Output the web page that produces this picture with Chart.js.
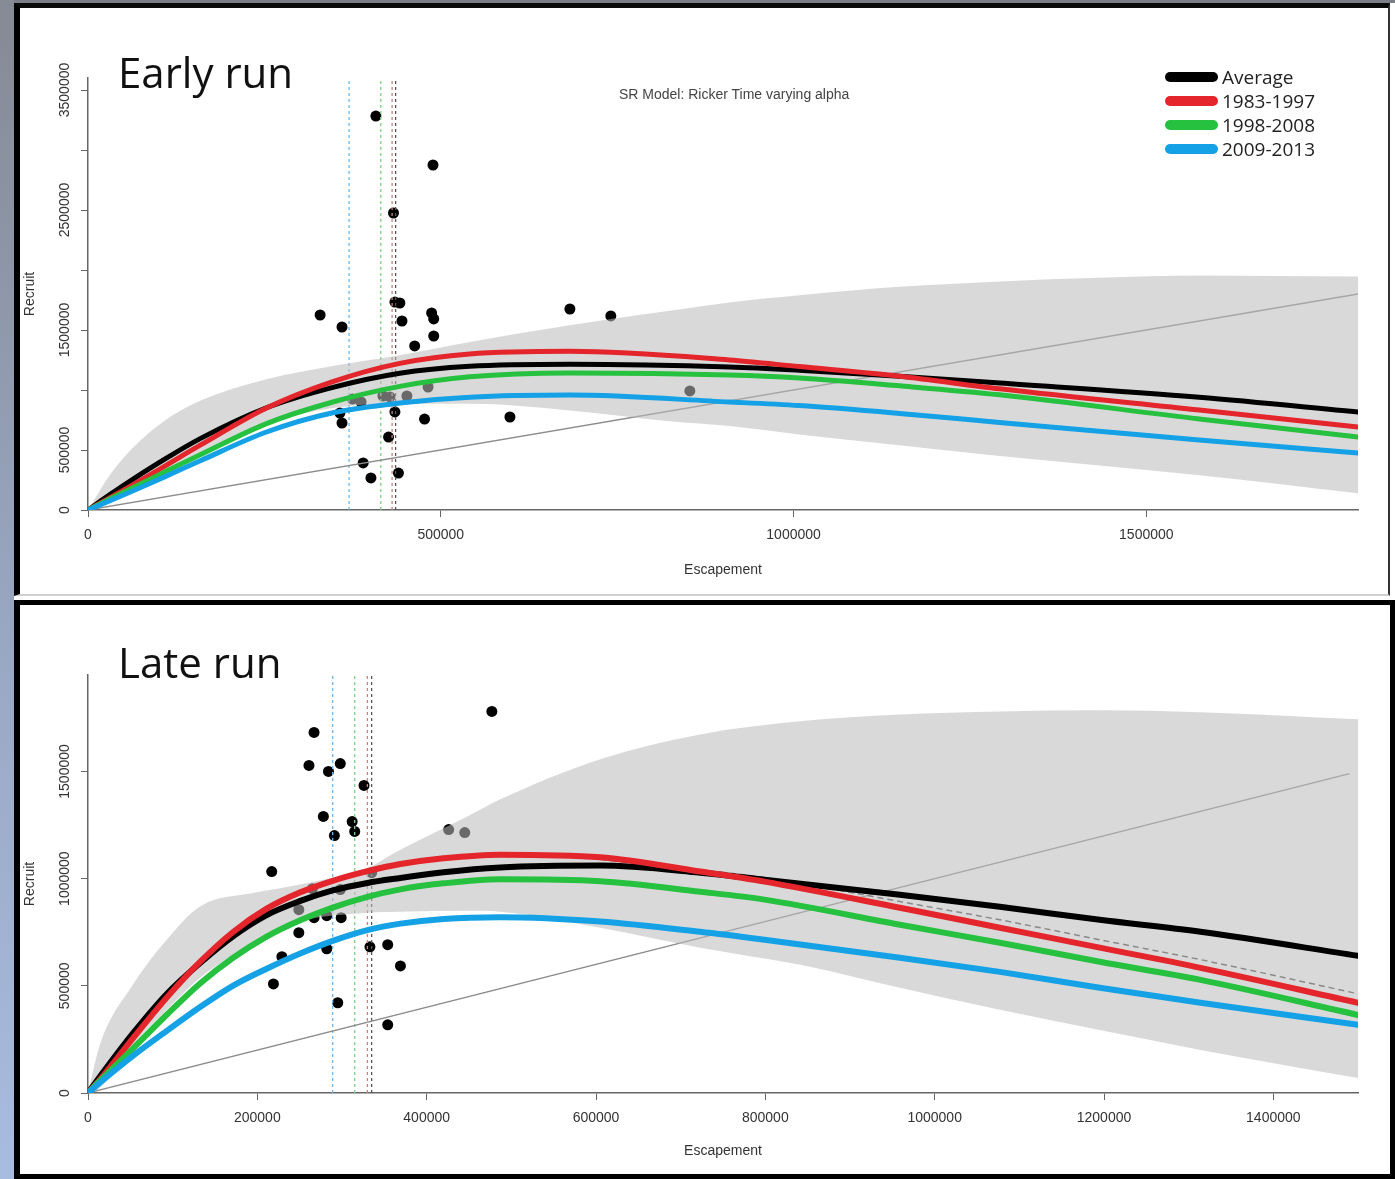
<!DOCTYPE html>
<html><head><meta charset="utf-8">
<script src="https://cdn.jsdelivr.net/npm/chart.js@4.4.0/dist/chart.umd.min.js"></script>
<style>
html,body{margin:0;padding:0;}
body{width:1395px;height:1179px;position:relative;overflow:hidden;background:#fff;font-family:'Liberation Sans',Arial,sans-serif;}
.abs{position:absolute;}
#strip{left:0;top:0;width:14px;height:1179px;background:linear-gradient(180deg,#858a94 0%,#97a5bf 50%,#a8bce0 100%);}
#topbar{left:14px;top:0;width:1381px;height:3px;background:#7a7f88;}
#panel1{left:14px;top:3px;width:1376px;height:593px;box-sizing:border-box;border-left:6px solid #000;border-top:5px solid #0a0a0a;border-right:2px solid #333;border-bottom:2px solid #d0d0d0;background:#fff;}
#panel2{left:14px;top:600px;width:1381px;height:579px;box-sizing:border-box;border:5px solid #000;border-left-width:6px;background:#fff;}
canvas{position:absolute;left:0;}
.run{position:absolute;font-family:'Open Sans';font-size:42px;line-height:42px;color:#111;left:118px;white-space:nowrap;}
.leg{position:absolute;left:1222px;font-family:'Open Sans';font-size:19px;line-height:26px;height:26px;color:#222;white-space:nowrap;}
.sw{position:absolute;left:1165px;width:53px;height:10px;border-radius:5px;}
.subt{position:absolute;font-size:14px;color:#444;left:619px;top:86px;line-height:16px;white-space:nowrap;}
</style></head>
<body>
<div id="strip" class="abs"></div>
<div id="topbar" class="abs"></div>
<div id="panel1" class="abs"></div>
<div id="panel2" class="abs"></div>
<canvas id="c1" width="1395" height="597" style="top:0;width:1395px;height:597px"></canvas>
<canvas id="c2" width="1395" height="579" style="top:600px;width:1395px;height:579px"></canvas>
<div class="run" style="top:51px">Early run</div>
<div class="run" style="top:641px">Late run</div>
<div class="subt">SR Model: Ricker Time varying alpha</div>
<div id="legend"></div>
<script>
// ---------------- Early run data ----------------
const earlyEscapement = [408000, 489000, 433000, 435000, 442000, 329000, 360000, 487000, 490000, 445000, 490000, 463000, 482000, 375000, 387000, 418000, 428000, 452000, 357000, 360000, 435000, 477000, 426000, 390000, 401000, 440000, 598000, 683000, 741000, 853000];
const earlyRecruit = [3283000, 2875000, 2475000, 1733000, 1725000, 1625000, 1525000, 1642000, 1592000, 1575000, 1450000, 1367000, 1025000, 925000, 900000, 950000, 942000, 950000, 808000, 725000, 817000, 758000, 608000, 392000, 267000, 308000, 775000, 1675000, 1617000, 992000];

const earlyCurveEsc = [0, 32000, 64000, 110000, 159000, 253000, 347000, 442000, 541000, 683000, 909000, 1008000, 1150000, 1292000, 1575000, 1800000];
const earlyAverage  = [0, 132000, 258000, 428000, 595000, 852000, 1022000, 1140000, 1198000, 1215000, 1192000, 1165000, 1115000, 1058000, 940000, 817000];
const early8397     = [0, 105000, 212000, 370000, 540000, 850000, 1070000, 1222000, 1300000, 1322000, 1250000, 1195000, 1115000, 1010000, 833000, 692000];
const early9808     = [0, 95000, 188000, 320000, 460000, 720000, 900000, 1030000, 1110000, 1142000, 1125000, 1100000, 1035000, 960000, 758000, 608000];
const early0913     = [0, 80000, 160000, 280000, 410000, 650000, 810000, 892000, 940000, 958000, 900000, 870000, 805000, 730000, 583000, 475000];

const earlyBandEsc   = [0, 32000, 64000, 110000, 159000, 253000, 347000, 442000, 541000, 683000, 824000, 909000, 1008000, 1150000, 1292000, 1433000, 1575000, 1800000];
const earlyBandUpper = [0, 300000, 520000, 750000, 910000, 1090000, 1200000, 1290000, 1400000, 1540000, 1660000, 1730000, 1790000, 1860000, 1905000, 1935000, 1955000, 1945000];
const earlyBandLower = [0, 100000, 190000, 340000, 480000, 720000, 850000, 885000, 885000, 830000, 740000, 700000, 630000, 540000, 450000, 370000, 290000, 140000];

const earlySmsy = [370000, 415000, 431000, 436000]; // 2009-2013, 1998-2008, 1983-1997, Average
const earlyReplacement = [0, 1800000];
const earlyXTicks = [0, 500000, 1000000, 1500000];
const earlyYTicks = [0, 500000, 1000000, 1500000, 2000000, 2500000, 3000000, 3500000];
const earlyYLabelled = [0, 500000, 1500000, 2500000, 3500000];

// ---------------- Late run data ----------------
const lateEscapement = [267000, 261000, 284000, 298000, 326000, 278000, 312000, 315000, 291000, 217000, 477000, 426000, 445000, 335000, 265000, 298000, 249000, 267000, 282000, 299000, 249000, 229000, 282000, 333000, 354000, 369000, 219000, 295000, 354000];
const lateRecruit = [1682000, 1528000, 1500000, 1537000, 1435000, 1290000, 1266000, 1220000, 1201000, 1033000, 1780000, 1229000, 1215000, 1028000, 953000, 949000, 855000, 818000, 827000, 818000, 748000, 636000, 673000, 682000, 692000, 593000, 509000, 421000, 318000];

const lateCurveEsc = [0, 14000, 53000, 93000, 132000, 171000, 211000, 250000, 289000, 330000, 369000, 420000, 487000, 605000, 723000, 799000, 959000, 1077000, 1195000, 1314000, 1500000];
const lateAverage  = [0, 76000, 278000, 462000, 605000, 730000, 830000, 895000, 945000, 980000, 1003000, 1030000, 1052000, 1061000, 1028000, 995000, 925000, 869000, 808000, 752000, 640000];
const late8397     = [0, 62000, 255000, 445000, 610000, 750000, 860000, 935000, 990000, 1035000, 1068000, 1095000, 1112000, 1100000, 1033000, 986000, 864000, 771000, 678000, 584000, 421000];
const late9808     = [0, 56000, 207000, 365000, 510000, 630000, 730000, 805000, 865000, 915000, 950000, 978000, 997000, 988000, 939000, 902000, 785000, 701000, 612000, 528000, 364000];
const late0913     = [0, 48000, 173000, 290000, 400000, 500000, 580000, 650000, 710000, 760000, 790000, 812000, 820000, 800000, 752000, 715000, 631000, 565000, 491000, 421000, 318000];

const lateBandEsc   = [0, 14000, 53000, 93000, 132000, 198000, 249000, 330000, 369000, 448000, 487000, 605000, 723000, 841000, 959000, 1077000, 1195000, 1314000, 1500000];
const lateBandUpper = [0, 224000, 505000, 715000, 869000, 935000, 972000, 1051000, 1135000, 1290000, 1370000, 1557000, 1673000, 1734000, 1766000, 1780000, 1785000, 1776000, 1743000];
const lateBandLower = [0, 23000, 224000, 388000, 537000, 706000, 799000, 841000, 846000, 850000, 846000, 771000, 678000, 598000, 491000, 388000, 294000, 201000, 70000];

const lateMedianEsc = [605000, 799000, 959000, 1077000, 1195000, 1314000, 1500000];
const lateMedian    = [1089000, 1005000, 893000, 808000, 715000, 622000, 463000];

const lateSmsy = [289000, 315000, 330000, 335000];
const lateReplacement = [0, 1490000];
const lateXTicks = [0, 200000, 400000, 600000, 800000, 1000000, 1200000, 1400000];
const lateYTicks = [0, 500000, 1000000, 1500000];
const lateYLabelled = [0, 500000, 1000000, 1500000];

// ---------------- legend ----------------
const seriesNames  = ['Average', '1983-1997', '1998-2008', '2009-2013'];
const seriesColors = ['#000000', '#e4252b', '#27c140', '#15a1e6'];
const smsyColors   = ['#6fb6e6', '#7fcf80', '#c98282', '#555555']; // order matches *Smsy arrays

const leg = document.getElementById('legend');
seriesNames.forEach((n, i) => {
  const cy = 77 + 24 * i;
  const sw = document.createElement('div');
  sw.className = 'sw'; sw.style.top = (cy - 5) + 'px'; sw.style.background = seriesColors[i];
  leg.appendChild(sw);
  const t = document.createElement('div');
  t.className = 'leg'; t.style.top = (cy - 13) + 'px'; t.textContent = n;
  leg.appendChild(t);
});

// ---------------- chart builder ----------------
Chart.defaults.font.family = "'Liberation Sans', Arial, sans-serif";
const xy = (xs, ys) => xs.map((x, i) => ({x: x, y: ys[i]}));

function curve(label, xs, ys, color, order, w) {
  return {type: 'line', label, data: xy(xs, ys), borderColor: color, backgroundColor: color,
    borderWidth: w, pointRadius: 0, cubicInterpolationMode: 'monotone', borderCapStyle: 'round',
    borderJoinStyle: 'round', fill: false, order};
}

function build(id, d) {
  const datasets = [];
  datasets.push(curve(seriesNames[3], d.esc, d.c3, seriesColors[3], 1, d.w));
  datasets.push(curve(seriesNames[2], d.esc, d.c2, seriesColors[2], 2, d.w));
  datasets.push(curve(seriesNames[1], d.esc, d.c1, seriesColors[1], 3, d.w));
  datasets.push(curve(seriesNames[0], d.esc, d.c0, seriesColors[0], 4, d.w));
  if (d.medEsc) {
    datasets.push({type: 'line', label: 'median', data: xy(d.medEsc, d.med), borderColor: '#8a8a8a',
      borderWidth: 1.5, borderDash: [6, 4], pointRadius: 0, cubicInterpolationMode: 'monotone', fill: false, order: 5});
  }
  datasets.push({type: 'line', label: 'band upper', data: xy(d.bandEsc, d.up), borderWidth: 0, borderColor: 'rgba(0,0,0,0)',
    pointRadius: 0, cubicInterpolationMode: 'monotone', fill: '+1', backgroundColor: 'rgba(188,188,188,0.56)', order: 7});
  datasets.push({type: 'line', label: 'band lower', data: xy(d.bandEsc, d.lo), borderWidth: 0, borderColor: 'rgba(0,0,0,0)',
    pointRadius: 0, cubicInterpolationMode: 'monotone', fill: false, order: 7});
  datasets.push({type: 'line', label: '1:1', data: xy(d.rep, d.rep), borderColor: '#8c8c8c', borderWidth: 1.3,
    pointRadius: 0, fill: false, order: 8});
  d.smsy.forEach((s, i) => {
    datasets.push({type: 'line', label: 'smsy' + i, data: [{x: s, y: 0}, {x: s, y: d.ymax}], borderColor: smsyColors[i],
      borderWidth: 1.3, borderDash: [3, 3], pointRadius: 0, fill: false, order: 9});
  });
  datasets.push({type: 'scatter', label: 'obs', data: xy(d.ptx, d.pty), pointRadius: 5.5, pointBackgroundColor: '#000',
    pointBorderWidth: 0, showLine: false, order: 10});

  const tickFont = {family: "'Liberation Sans', Arial, sans-serif", size: 14};
  return new Chart(document.getElementById(id), {
    type: 'scatter',
    data: {datasets},
    options: {
      responsive: false, animation: false, devicePixelRatio: 1,
      layout: {padding: {left: 0, right: 37, top: d.padTop, bottom: 0}},
      plugins: {legend: {display: false}, tooltip: {enabled: false}, title: {display: false}},
      scales: {
        x: {type: 'linear', min: 0, max: d.xmax,
          afterFit: s => { s.height = d.xh; },
          afterBuildTicks: s => { s.ticks = d.xticks.map(v => ({value: v})); },
          ticks: {autoSkip: false, maxRotation: 0, color: '#333', font: tickFont, padding: 10, callback: v => String(v)},
          grid: {drawOnChartArea: false, drawTicks: true, tickLength: 7, color: '#666', lineWidth: 1},
          border: {display: true, color: '#666', width: 1.5},
          title: {display: true, text: 'Escapement', color: '#333', font: tickFont, padding: {top: 0, bottom: d.xtp}}},
        y: {type: 'linear', min: 0, max: d.ymax,
          afterFit: s => { s.width = 88; },
          afterBuildTicks: s => { s.ticks = d.yticks.map(v => ({value: v})); },
          ticks: {autoSkip: false, minRotation: 90, maxRotation: 90, crossAlign: 'center', padding: -11, color: '#333', font: tickFont,
            callback: v => d.ylab.includes(v) ? String(v) : ''},
          grid: {drawOnChartArea: false, drawTicks: true, tickLength: 7, color: '#666', lineWidth: 1},
          border: {display: true, color: '#666', width: 1.5},
          title: {display: true, text: 'Recruit', color: '#333', font: tickFont, padding: {top: 21.6, bottom: 0}}}
      }
    }
  });
}

build('c1', {
  esc: earlyCurveEsc, c0: earlyAverage, c1: early8397, c2: early9808, c3: early0913, w: 5,
  bandEsc: earlyBandEsc, up: earlyBandUpper, lo: earlyBandLower,
  rep: earlyReplacement, smsy: earlySmsy, ptx: earlyEscapement, pty: earlyRecruit,
  xmax: 1800000, ymax: 3600000, xticks: earlyXTicks, yticks: earlyYTicks, ylab: earlyYLabelled,
  padTop: 78, xh: 87, xtp: 18.6
});
build('c2', {
  esc: lateCurveEsc, c0: lateAverage, c1: late8397, c2: late9808, c3: late0913, w: 6,
  medEsc: lateMedianEsc, med: lateMedian,
  bandEsc: lateBandEsc, up: lateBandUpper, lo: lateBandLower,
  rep: lateReplacement, smsy: lateSmsy, ptx: lateEscapement, pty: lateRecruit,
  xmax: 1500000, ymax: 1950000, xticks: lateXTicks, yticks: lateYTicks, ylab: lateYLabelled,
  padTop: 75, xh: 86, xtp: 19.6
});
</script>
</body></html>
